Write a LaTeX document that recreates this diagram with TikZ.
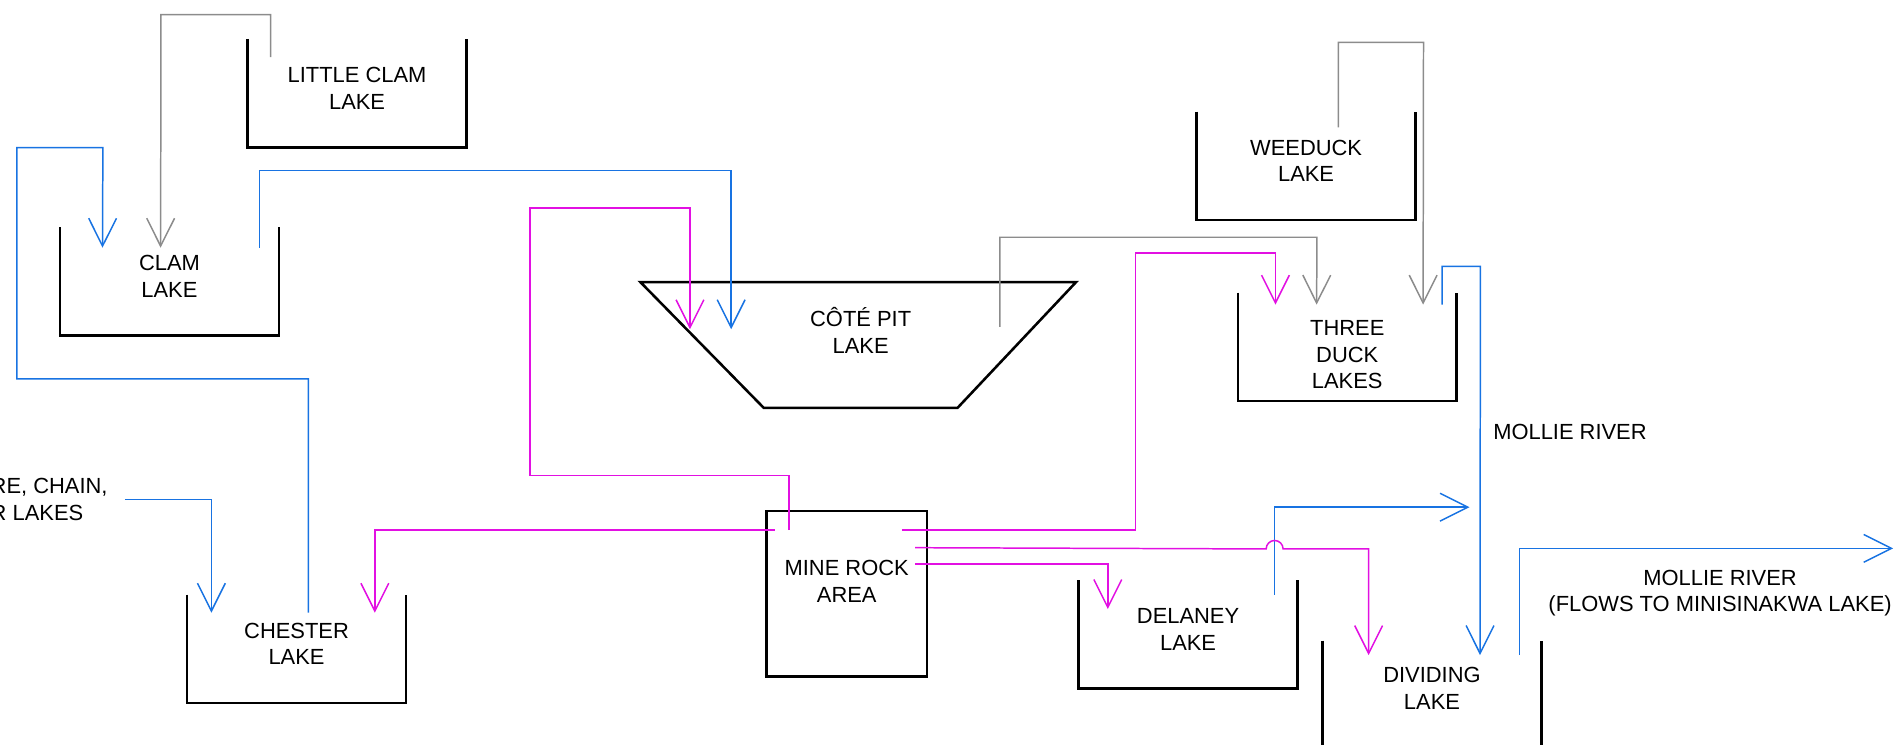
\documentclass[tikz,border=0pt]{standalone}
\usepackage{fontspec}
\setmainfont{Liberation Sans}
\usepackage{xcolor}
\usepackage{tikz}
\usetikzlibrary{arrows.meta, positioning}

\definecolor{flowblue}{RGB}{24,115,226}
\definecolor{flowpink}{RGB}{226,16,226}
\definecolor{flowgray}{RGB}{140,140,140}
\newcommand{\lakefont}{\fontsize{10.3}{12.5}\selectfont}

\begin{document}
\begin{tikzpicture}[x=0.02cm, y=-0.02cm, >={Straight Barb[length=0.46cm, width=0.46cm]},
        lake/.style={rectangle, minimum width=3.6cm, minimum height=1.78cm},
        wall/.style={draw=black, line width=1.2pt},
        txt/.style={align=center, inner sep=0pt, font=\lakefont},
        lakename/.style={txt, yshift=0.08cm},
        bflow/.style={->, draw=flowblue, line width=0.7pt},
        mflow/.style={->, draw=flowpink, line width=0.7pt},
        gflow/.style={->, draw=flowgray, line width=0.7pt}]

        \useasboundingbox (0,0) rectangle (1568,615);

        \node (lclam) [lake, label={[lakename, name=lclamtxt]center:LITTLE CLAM\\LAKE}] at (295,77) {};
        \node (clam) [lake, label={[lakename, name=clamtxt]center:CLAM\\LAKE}] at (140,232.5) {};
        \node (weeduck) [lake, label={[lakename, name=weeducktxt]center:WEEDUCK\\LAKE}] at (1079,137) {};
        \node (threeduck) [lake, label={[txt, yshift=-0.13cm, name=threeducktxt]center:THREE\\DUCK\\LAKES}] at (1113,286.5) {};
        \node (chester) [lake, label={[lakename, name=chestertxt]center:CHESTER\\LAKE}] at (245,536) {};
        \node (delaney) [lake, label={[lakename, name=delaneytxt]center:DELANEY\\LAKE}] at (981.5,524) {};
        \node (dividing) [lake, label={[txt, yshift=0.11cm, name=dividingtxt]center:DIVIDING\\LAKE}] at (1183,574) {};
        \node (cote) [txt] at (711,273) {CÔTÉ PIT\\LAKE};
        \node (mine) [wall, minimum width=2.66cm, minimum height=2.74cm] at (699.5,490.5) {};
        \node (minetxt) [txt] at ([yshift=0.2cm]mine.center) {MINE ROCK\\AREA};
        \node (chain) [txt, align=left, anchor=west] at (-8,412.5) {RE, CHAIN,\\R LAKES};
        \node (mollie) [txt] at (1297,357) {MOLLIE RIVER};
        \node (minisin) [txt] at (1421,490) {MOLLIE RIVER\\(FLOWS TO MINISINAKWA LAKE)};
        \coordinate (river) at (1214,419);
        \coordinate (outlet) at (1564,453);

        \draw[wall] (lclam.north west) -- (lclam.south west) -- (lclam.south east) -- (lclam.north east);
        \draw[wall] (clam.north west) -- (clam.south west) -- (clam.south east) -- (clam.north east);
        \draw[wall] (weeduck.north west) -- (weeduck.south west) -- (weeduck.south east) -- (weeduck.north east);
        \draw[wall] (threeduck.north west) -- (threeduck.south west) -- (threeduck.south east) -- (threeduck.north east);
        \draw[wall] (chester.north west) -- (chester.south west) -- (chester.south east) -- (chester.north east);
        \draw[wall] (delaney.north west) -- (delaney.south west) -- (delaney.south east) -- (delaney.north east);
        \draw[wall] (dividing.north west) -- (dividing.south west) -- (dividing.south east) -- (dividing.north east);
        \draw[wall] (529,233) -- (889,233) -- (791,337) -- (631,337) -- cycle;

        \draw[gflow] ([shift={(19,15)}]lclam.north west) |- (133,12) -- ([shift={(83,17)}]clam.north west);
        \draw[gflow] ([shift={(115,-3)}]cote.center) |- (1088,196) -- ([shift={(65,10)}]threeduck.north west);
        \draw[gflow] ([shift={(117,13)}]weeduck.north west) |- (1176,35) -- ([shift={(153,10)}]threeduck.north west);

        \draw[bflow] ([shift={(100,15)}]chester.north west) |- (14,313) |- (85,122) -- ([shift={(35,17)}]clam.north west);
        \draw[bflow] ([shift={(-16,17)}]clam.north east) |- (604,141) -- ([shift={(-107,-1)}]cote.center);
        \draw[bflow] ([shift={(-12,10)}]threeduck.north east) |- (1223,220) -- ([shift={(130,12)}]dividing.north west);
        \draw[bflow] ([shift={(-19,12)}]delaney.north east) |- (river);
        \draw[bflow] ([shift={(-18,12)}]dividing.north east) |- (outlet);
        \draw[bflow] ([xshift=0.28cm]chain.east) -| ([shift={(20,15)}]chester.north west);

        \draw[mflow] ([shift={(20,17)}]mine.north west) |- (438,393) |- (570,172) -- ([shift={(-141,-1)}]cote.center);
        \draw[mflow] ([shift={(8,17)}]mine.north west) -| ([shift={(155,15)}]chester.north west);
        \draw[mflow] ([shift={(-22,17)}]mine.north east) -| (938,209) -| ([shift={(31,10)}]threeduck.north west);
        \draw[mflow] ([shift={(-11,31.5)}]mine.north east) -- (1046,453.5) arc[start angle=180, end angle=0, radius=0.14cm] -| ([shift={(38,12)}]dividing.north west);
        \draw[mflow] ([shift={(-11,45)}]mine.north east) -| ([shift={(24,24)}]delaney.north west);
    \end{tikzpicture}
\end{document}
